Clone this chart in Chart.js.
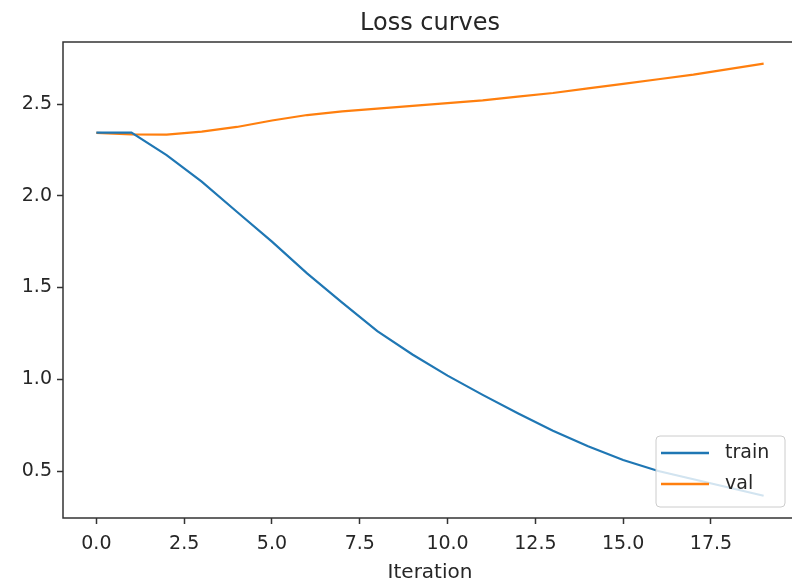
<!DOCTYPE html>
<html>
<head>
<meta charset="utf-8">
<script src="https://cdn.jsdelivr.net/npm/chart.js@4/dist/chart.umd.min.js"></script>
<style>
html,body{margin:0;padding:0;overflow:hidden;background:#fff;}
#wrap{position:relative;width:800px;height:585px;}
</style>
</head>
<body>
<div id="wrap"><canvas id="c" width="800" height="585"></canvas></div>
<script>
// ---- data ----
const iterations = [0,1,2,3,4,5,6,7,8,9,10,11,12,13,14,15,16,17,18,19];
const trainLoss = [2.344,2.344,2.222,2.077,1.913,1.750,1.577,1.418,1.262,1.135,1.020,0.915,0.815,0.720,0.635,0.560,0.500,0.455,0.410,0.365];
const valLoss   = [2.343,2.335,2.333,2.350,2.375,2.410,2.440,2.460,2.475,2.490,2.505,2.520,2.540,2.560,2.585,2.610,2.635,2.660,2.690,2.720];
const seriesNames = ['train','val'];
const xTickValues = [0,2.5,5,7.5,10,12.5,15,17.5];
const yTickValues = [0.5,1.0,1.5,2.0,2.5];
const chartTitle = 'Loss curves';
const xAxisLabel = 'Iteration';

const FONT = 'DejaVu Sans';
const TXT = '#262626';

const framePlugin = {
  id: 'frame',
  afterDatasetsDraw(chart) {
    const {ctx, chartArea: a} = chart;
    ctx.save();
    ctx.strokeStyle = '#333';
    ctx.lineWidth = 1.5;
    ctx.strokeRect(a.left, a.top, a.right - a.left, a.bottom - a.top);
    // legend (lower right)
    const w = 129, h = 71;
    const x2 = a.right - 12, y2 = a.bottom - 11;
    const x1 = x2 - w, y1 = y2 - h;
    ctx.beginPath();
    ctx.roundRect(x1, y1, w, h, 4);
    ctx.fillStyle = 'rgba(255,255,255,0.8)';
    ctx.fill();
    ctx.strokeStyle = '#cccccc';
    ctx.lineWidth = 1;
    ctx.stroke();
    chart.data.datasets.forEach((ds, i) => {
      const yy = y1 + 17 + i * 31;
      ctx.beginPath();
      ctx.moveTo(x1 + 5, yy);
      ctx.lineTo(x1 + 53, yy);
      ctx.strokeStyle = ds.borderColor;
      ctx.lineWidth = 2.4;
      ctx.stroke();
      ctx.fillStyle = TXT;
      ctx.font = '19px "' + FONT + '"';
      ctx.textBaseline = 'middle';
      ctx.textAlign = 'left';
      ctx.fillText(ds.label, x1 + 69, yy);
    });
    // title
    ctx.font = '24px "' + FONT + '"';
    ctx.textAlign = 'center';
    ctx.textBaseline = 'alphabetic';
    ctx.fillStyle = TXT;
    ctx.fillText(chartTitle, (a.left + a.right) / 2, 30);
    ctx.restore();
  }
};

new Chart(document.getElementById('c'), {
  type: 'line',
  data: {
    datasets: [
      { label: seriesNames[0], data: iterations.map((x, i) => ({x, y: trainLoss[i]})),
        borderColor: '#1f77b4', backgroundColor: '#1f77b4', borderWidth: 2.2, pointRadius: 0, tension: 0 },
      { label: seriesNames[1], data: iterations.map((x, i) => ({x, y: valLoss[i]})),
        borderColor: '#ff7f0e', backgroundColor: '#ff7f0e', borderWidth: 2.2, pointRadius: 0, tension: 0 }
    ]
  },
  options: {
    responsive: false,
    animation: false,
    devicePixelRatio: 1,
    layout: { padding: { top: 42, right: 3, bottom: 0, left: 0 } },
    plugins: { legend: { display: false }, title: { display: false }, tooltip: { enabled: false } },
    scales: {
      x: {
        type: 'linear', min: -0.95, max: 19.95,
        afterBuildTicks: s => { s.ticks = xTickValues.map(v => ({value: v})); },
        afterFit: s => { s.height = 67; },
        ticks: { callback: v => Number(v).toFixed(1), font: { family: FONT, size: 19 }, color: TXT, padding: 9, maxRotation: 0, autoSkip: false },
        grid: { display: true, drawOnChartArea: false, drawTicks: true, tickLength: 6, tickColor: '#333', tickWidth: 1.5 },
        border: { display: false },
        title: { display: true, text: xAxisLabel, font: { family: FONT, size: 20 }, color: TXT, padding: { top: 0, bottom: 0 } }
      },
      y: {
        type: 'linear', min: 0.244, max: 2.838,
        afterBuildTicks: s => { s.ticks = yTickValues.map(v => ({value: v})); },
        afterFit: s => { s.width = 63; },
        ticks: { callback: v => Number(v).toFixed(1), font: { family: FONT, size: 19 }, color: TXT, padding: 5 },
        grid: { display: true, drawOnChartArea: false, drawTicks: true, tickLength: 6, tickColor: '#333', tickWidth: 1.5 },
        border: { display: false }
      }
    }
  },
  plugins: [framePlugin]
});
</script>
</body>
</html>
